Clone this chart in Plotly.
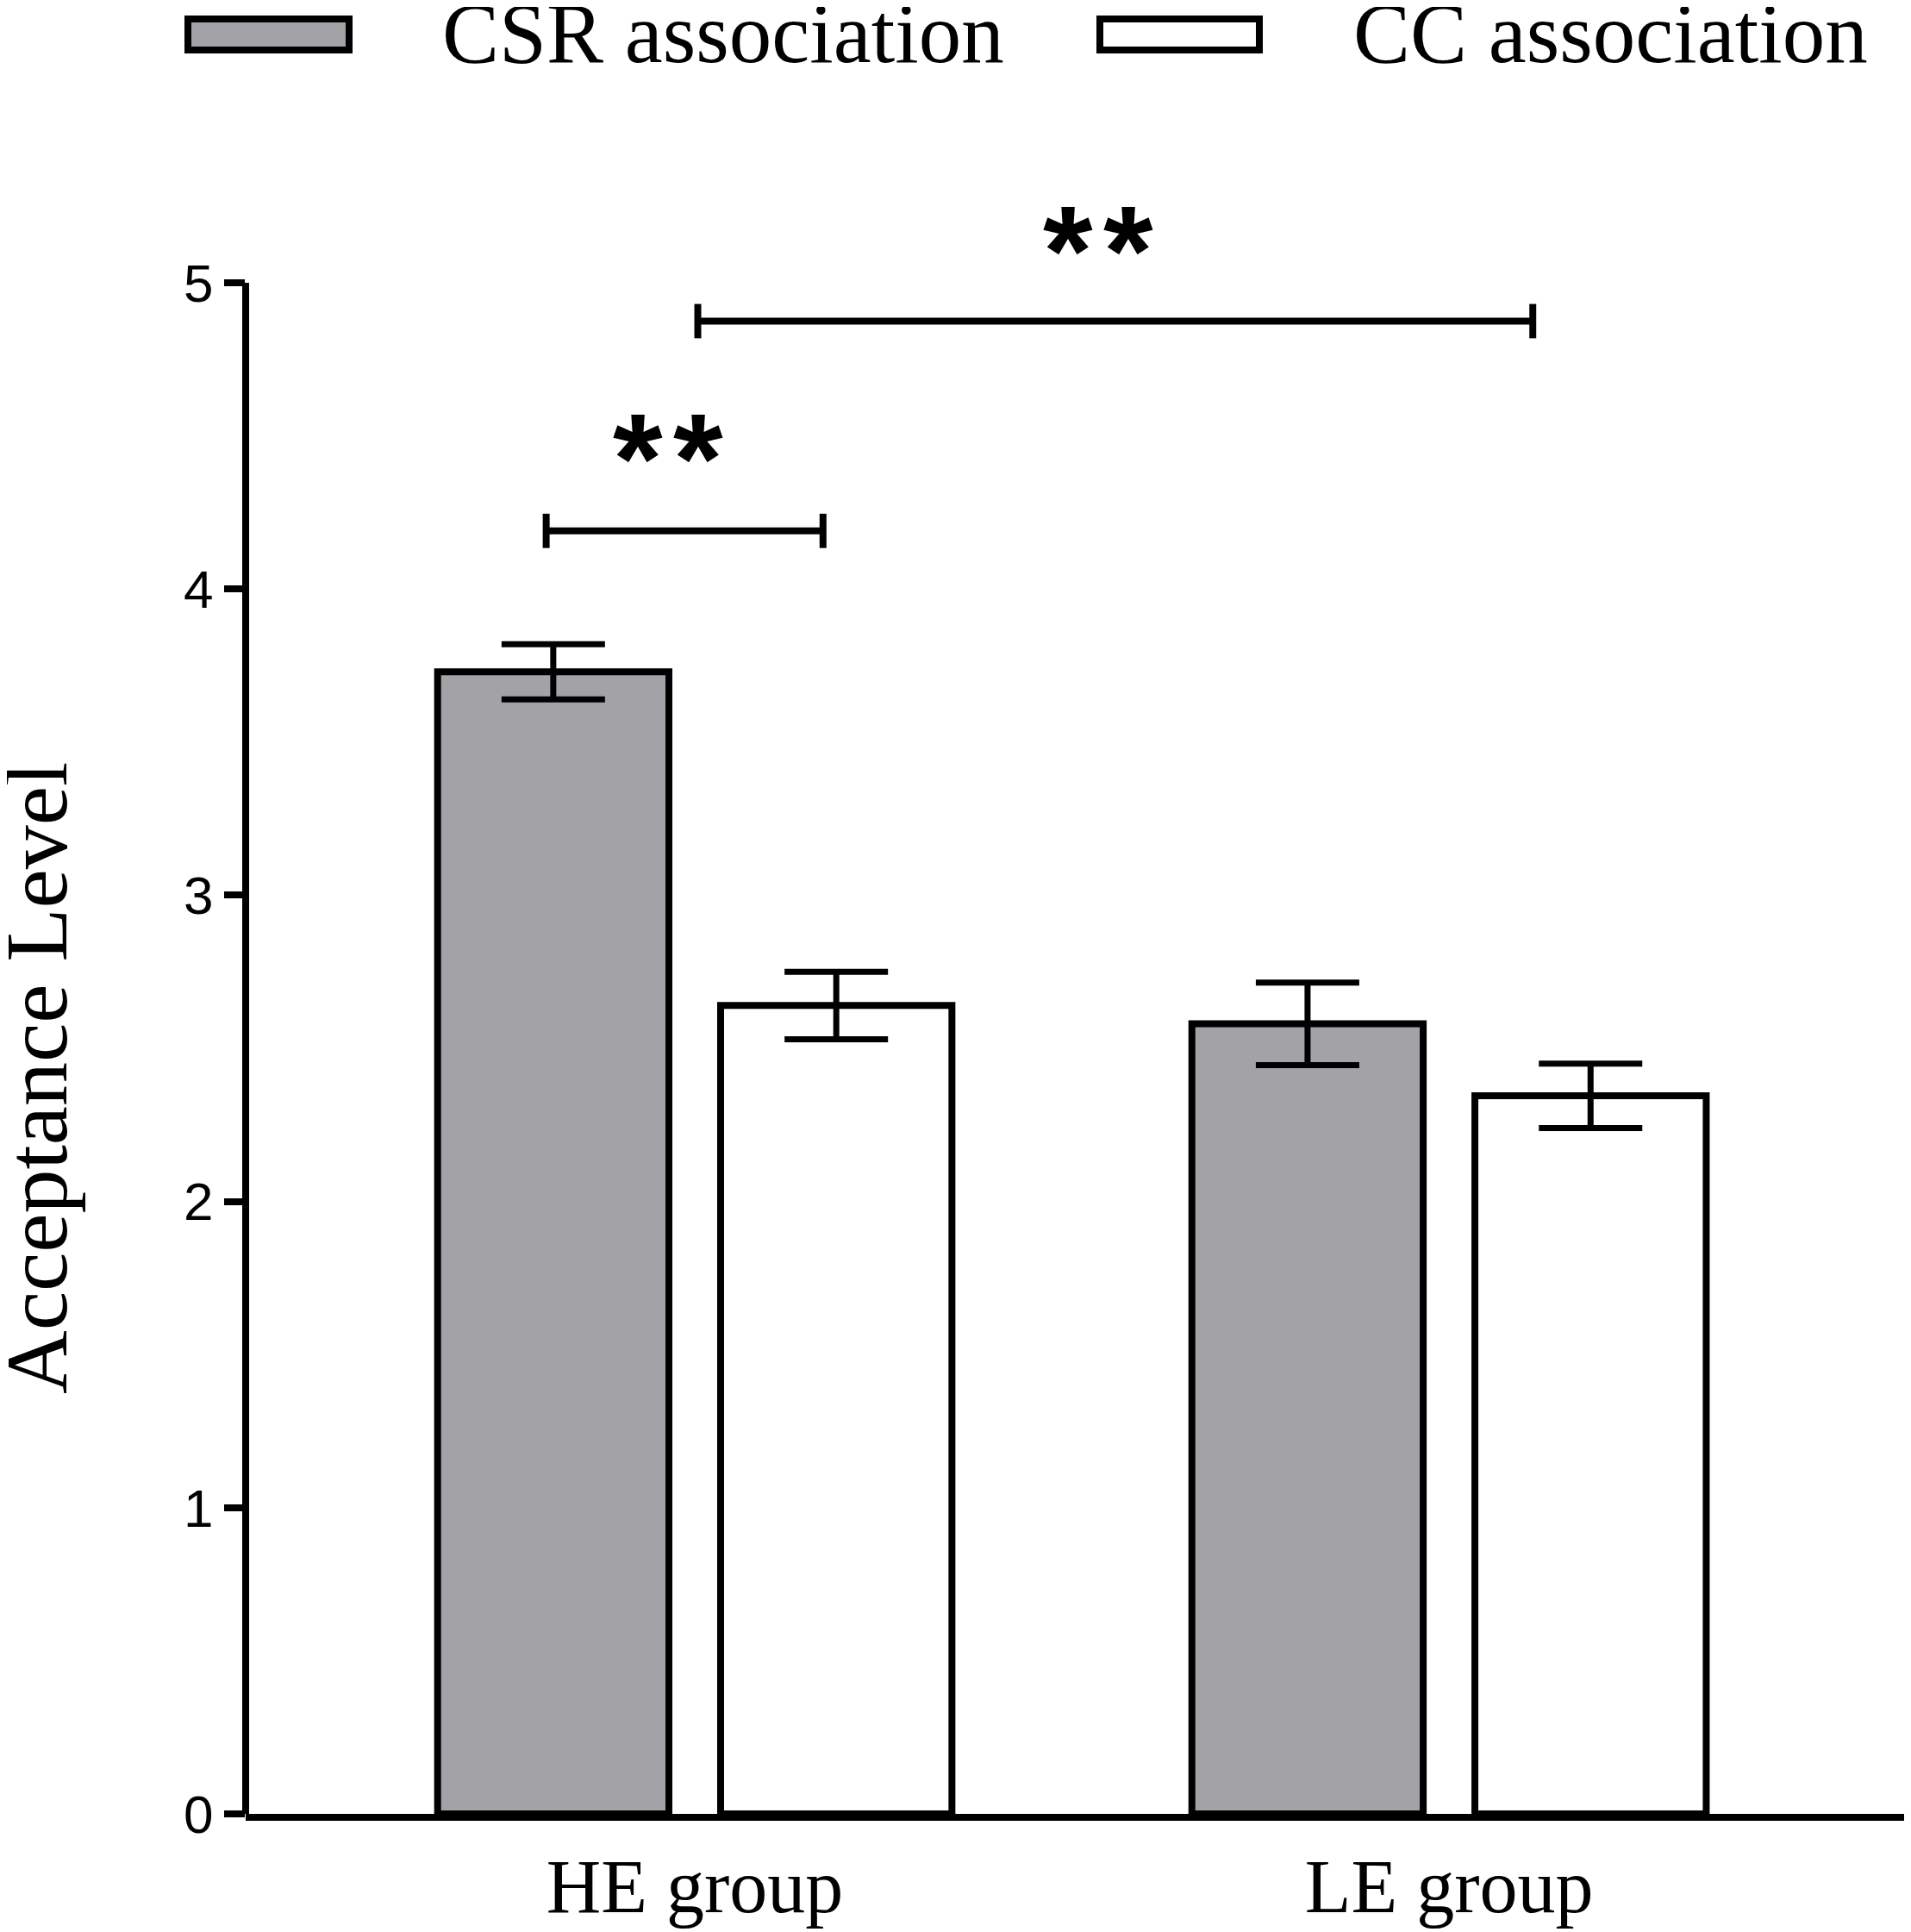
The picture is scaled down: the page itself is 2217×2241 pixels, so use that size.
import plotly.graph_objects as go

# data
groups = ["HE group", "LE group"]
csr_mean = [3.73, 2.58]
csr_err = [0.09, 0.135]
cc_mean = [2.64, 2.345]
cc_err = [0.11, 0.105]

# significance brackets: (x_start, x_end, y, label)
sig_x0 = [-0.197, 0.004]
sig_x1 = [0.170, 1.111]
sig_y = [4.19, 4.875]
sig_label = ["*\u200a*", "*\u200a*"]
sig_text_x = [-0.035, 0.535]
sig_text_y = [4.48, 5.16]

W, H = 2217, 2241
L, R, T, B = 277, 11, 178, 145
GRAY = "#a3a2a7"
SERIF = "Liberation Serif, Times New Roman, serif"
SANS = "Liberation Sans, Arial, sans-serif"
LW = 8


def px(xp):
    return (xp - L) / (W - L - R)


def py(yp):
    return (H - B - yp) / (H - T - B)


fig = go.Figure()
fig.add_trace(go.Bar(x=groups, y=csr_mean, name="CSR association",
                     marker=dict(color=GRAY, line=dict(color="black", width=LW)),
                     error_y=dict(type="data", array=csr_err, color="black", thickness=7, width=60)))
fig.add_trace(go.Bar(x=groups, y=cc_mean, name="CC association",
                     marker=dict(color="white", line=dict(color="black", width=LW)),
                     error_y=dict(type="data", array=cc_err, color="black", thickness=7, width=60)))

shapes = []
# y axis line only up to 5
shapes.append(dict(type="line", xref="paper", yref="y", x0=0, x1=0, y0=0, y1=5,
                   line=dict(color="black", width=LW)))
for x0, x1, y in zip(sig_x0, sig_x1, sig_y):
    shapes.append(dict(type="line", xref="x", yref="y", x0=x0, x1=x1, y0=y, y1=y,
                       line=dict(color="black", width=LW)))
    for xe in (x0, x1):
        shapes.append(dict(type="line", xref="x", yref="y", x0=xe, x1=xe, y0=y - 0.056, y1=y + 0.056,
                           line=dict(color="black", width=LW)))

# legend drawn by hand (wide boxes)
for (x0, x1), col in zip([(210, 397), (1268, 1453)], [GRAY, "white"]):
    shapes.append(dict(type="rect", xref="paper", yref="paper", x0=px(x0), x1=px(x1), y0=py(50), y1=py(14),
                       fillcolor=col, line=dict(color="black", width=LW)))

annotations = []
for tx, ty, lab in zip(sig_text_x, sig_text_y, sig_label):
    annotations.append(dict(x=tx, y=ty, xref="x", yref="y", text="<b>" + lab + "</b>", showarrow=False,
                            font=dict(family=SANS, size=148, color="black"), yshift=-19))
annotations.append(dict(x=px(503), y=py(31), xref="paper", yref="paper", text="CSR association",
                        showarrow=False, xanchor="left", yanchor="middle",
                        font=dict(family=SERIF, size=99, color="black")))
annotations.append(dict(x=px(1560), y=py(31), xref="paper", yref="paper", text="CC association",
                        showarrow=False, xanchor="left", yanchor="middle",
                        font=dict(family=SERIF, size=99, color="black")))
annotations.append(dict(x=px(34), y=py(1243), xref="paper", yref="paper", text="Acceptance Level",
                        showarrow=False, textangle=-90, xanchor="center", yanchor="middle",
                        font=dict(family=SERIF, size=102, color="black")))

fig.update_layout(
    width=W, height=H,
    margin=dict(l=L, r=R, t=T, b=B),
    paper_bgcolor="white", plot_bgcolor="white",
    barmode="group", bargap=0.2496, bargroupgap=0.1826,
    showlegend=False,
    shapes=shapes, annotations=annotations,
    xaxis=dict(range=[-0.5954, 1.609], showline=True, linecolor="black", linewidth=LW,
               ticks="", showgrid=False, zeroline=False,
               tickfont=dict(family=SERIF, size=88, color="black")),
    yaxis=dict(range=[0, 5.4], tickvals=[0, 1, 2, 3, 4, 5], showline=False, showgrid=False,
               zeroline=False, ticks="outside", ticklen=24, tickwidth=LW, tickcolor="black",
               tickfont=dict(family=SANS, size=62, color="black")),
)

fig.write_html("out.html")
